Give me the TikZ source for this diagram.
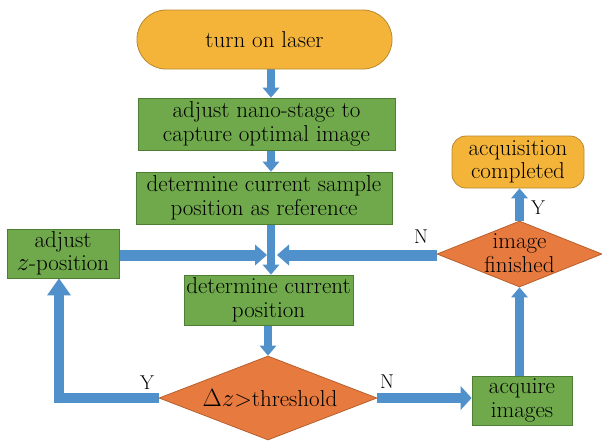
\documentclass[tikz,border=0pt]{standalone}
\usetikzlibrary{arrows.meta,shapes.geometric,backgrounds}
\definecolor{gold}{HTML}{F4B43A}
\definecolor{goldB}{HTML}{B8892E}
\definecolor{grn}{HTML}{6FA94B}
\definecolor{grnB}{HTML}{4E7D34}
\definecolor{org}{HTML}{E77A3E}
\definecolor{orgB}{HTML}{B5602F}
\definecolor{blu}{HTML}{5191CB}
\begin{document}
\begin{tikzpicture}[x=1pt,y=-1pt,
  font=\fontsize{23}{23.5}\selectfont,
  gbox/.style={rectangle, draw=grnB, fill=grn, line width=0.8pt, inner sep=0pt, align=center},
  term/.style={rectangle, rounded corners=14pt, draw=goldB, fill=gold, line width=0.8pt, inner sep=0pt, align=center},
  dia/.style={diamond, draw=orgB, fill=org, line width=0.8pt, inner sep=0pt},
  txt/.style={inner sep=0pt, align=center},
  lbl/.style={font=\fontsize{20}{20}\selectfont, inner sep=0pt},
  arrV/.style={draw=blu, line width=8pt, -{Triangle[width=17pt,length=10pt,line width=0pt]}},
  arrH/.style={draw=blu, line width=11pt, -{Triangle[width=21pt,length=12pt,line width=0pt]}},
  arrB/.style={draw=blu, line width=9.5pt, line join=miter, -{Triangle[width=24pt,length=17pt,line width=0pt]}},
  arrN/.style={draw=blu, line width=10pt, -{Triangle[width=24pt,length=11pt,line width=0pt]}}
]
\useasboundingbox (0,0) rectangle (602,440);

\node[term, rounded corners=29pt, minimum width=255pt, minimum height=59pt] (laser) at (264.5,39.5) {turn on laser};
\node[gbox, minimum width=257pt, minimum height=52pt] (nano) at (266.5,124) {adjust nano-stage to\\capture optimal image};
\node[gbox, minimum width=256pt, minimum height=52pt] (sample) at (264,198) {determine current sample\\position as reference};
\node[gbox, minimum width=112pt, minimum height=49pt] (adjz) at (63,253.5) {adjust\\$z$-position};
\node[gbox, minimum width=169pt, minimum height=50pt] (curpos) at (268.5,300) {determine current\\position};
\node[dia, minimum width=218pt, minimum height=84pt] (dz) at (268,398) {};
\node[txt] (dztxt) at (270,398) {$\Delta z$>threshold};
\node[gbox, minimum width=100pt, minimum height=49pt] (acq) at (522,400.5) {acquire\\images};
\node[dia, minimum width=165pt, minimum height=66pt] (imgfin) at (519.5,254) {};
\node[txt] (imgtxt) at (519.5,253) {image\\finished};
\node[term, minimum width=132pt, minimum height=52pt] (done) at (518,162) {acquisition\\completed};

\coordinate (colA) at (271,0);
\coordinate (colB) at (268,0);
\coordinate (colY) at (59,0);
\coordinate (tipL) at (267,255);
\coordinate (tipR) at (277,255);

\begin{pgfonlayer}{background}
\draw[arrV] (laser.south -| colA) -- (nano.north -| colA);
\draw[arrV] (nano.south -| colA) -- (sample.north -| colA);
\draw[arrV] (sample.south -| colA) -- (curpos.north -| colA);
\draw[arrH] (adjz.east |- tipL) -- (tipL);
\draw[arrH] (imgfin.west |- tipR) -- (tipR);
\draw[arrV] (curpos.south -| colB) -- (dz.north);
\draw[arrB] (dz.west) -| (adjz.south -| colY);
\draw[arrN] (dz.east) -- (acq.west |- dz.east);
\draw[arrV, line width=9pt] (acq.north -| imgfin.south) -- (imgfin.south);
\draw[arrV, line width=9pt] (imgfin.north) -- (done.south -| imgfin.north);
\end{pgfonlayer}

\node[lbl] (ly1) at (147,383) {Y};
\node[lbl] (ln1) at (387,382) {N};
\node[lbl] (ln2) at (421,237) {N};
\node[lbl] (ly2) at (538,208) {Y};
\end{tikzpicture}
\end{document}
